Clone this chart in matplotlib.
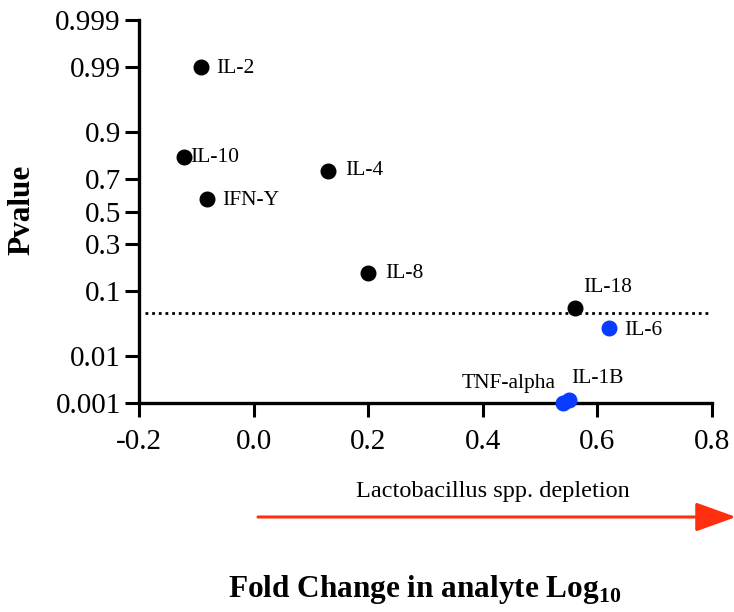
import numpy as np
import matplotlib
matplotlib.use("Agg")
import matplotlib.pyplot as plt
from statistics import NormalDist

plt.rcParams['font.family'] = ['Liberation Serif', 'DejaVu Serif']
plt.rcParams['mathtext.fontset'] = 'custom'
plt.rcParams['mathtext.rm'] = 'Liberation Serif'
plt.rcParams['mathtext.bf'] = 'Liberation Serif:bold'

analytes = ["IL-2", "IL-10", "IL-4", "IFN-Y", "IL-8", "IL-18", "IL-6", "TNF-alpha", "IL-1B"]
fold_change = [-0.092, -0.121, 0.130, -0.081, 0.200, 0.561, 0.620, 0.540, 0.550]
pvalues = [0.99, 0.81, 0.745, 0.577, 0.159, 0.059, 0.030, 0.0010, 0.0012]
colours = ["black", "black", "black", "black", "black", "black", "#0a3cff", "#0a3cff", "#0a3cff"]
# label offsets in points, and alignment
offsets = [(11, -1), (4, 0), (12, 0), (11, -1), (12, 0), (6, 15), (11, -2), (-5, 14), (2, 15)]
aligns = ["left", "left", "left", "left", "left", "left", "left", "right", "left"]

yticks = [0.001, 0.01, 0.1, 0.3, 0.5, 0.7, 0.9, 0.99, 0.999]
ytick_labels = ["0.001", "0.01", "0.1", "0.3", "0.5", "0.7", "0.9", "0.99", "0.999"]
xticks = [-0.2, 0.0, 0.2, 0.4, 0.6, 0.8]
threshold = 0.05

nd = NormalDist()
_ppf = np.vectorize(nd.inv_cdf, otypes=[float])
_cdf = np.vectorize(nd.cdf, otypes=[float])


def probit(p):
    p = np.clip(np.asarray(p, dtype=float), 1e-9, 1 - 1e-9)
    return _ppf(p)


def inv_probit(z):
    return _cdf(np.asarray(z, dtype=float))


fig = plt.figure(figsize=(7.34, 6.12), dpi=100)
ax = fig.add_axes([139 / 734, 1 - 403 / 612, (712 - 139) / 734, (403 - 20) / 612])
ax.set_yscale("function", functions=(probit, inv_probit))

ax.plot([-0.19, 0.795], [threshold, threshold], ls=(0, (1, 1.4)), color="black", lw=2, zorder=1)

for name, x, p, c, off, ha in zip(analytes, fold_change, pvalues, colours, offsets, aligns):
    ax.plot(x, p, "o", color=c, ms=10.5, zorder=3, clip_on=False)
    ax.annotate(name, (x, p), xytext=off, textcoords="offset points",
                ha=ha, va="center", fontsize=15.5)

ax.set_xlim(-0.2, 0.8)
ax.set_ylim(0.001, 0.999)
ax.set_xticks(xticks)
ax.set_xticklabels(["-0.2", "0.0", "0.2", "0.4", "0.6", "0.8"])
ax.set_yticks(yticks)
ax.set_yticklabels(ytick_labels)
ax.minorticks_off()
ax.tick_params(axis="both", which="major", direction="out", length=10, width=2.2,
               labelsize=21, pad=3)
ax.tick_params(axis="x", pad=9)
for side in ["top", "right"]:
    ax.spines[side].set_visible(False)
for side in ["left", "bottom"]:
    ax.spines[side].set_linewidth(2.4)

fig.text(493 / 734, 1 - 492 / 612, "Lactobacillus spp. depletion", ha="center", va="center",
         fontsize=17.5)
ax.annotate("", xy=(736 / 734, 1 - 517 / 612), xytext=(258 / 734, 1 - 517 / 612),
            xycoords="figure fraction", textcoords="figure fraction",
            arrowprops=dict(arrowstyle="-|>,head_length=2.5,head_width=0.9",
                            color="#ff2e0e", lw=2.2, shrinkA=0, shrinkB=0,
                            mutation_scale=10))

fig.text(425 / 734, 1 - 590 / 612, r"Fold Change in analyte Log$_{\mathbf{10}}$",
         ha="center", va="center", fontsize=22.5, fontweight="bold")
fig.text(22 / 734, 1 - 210 / 612, "Pvalue", rotation=90, ha="center", va="center",
         fontsize=22.5, fontweight="bold")

fig.savefig("out.png", dpi=100)
